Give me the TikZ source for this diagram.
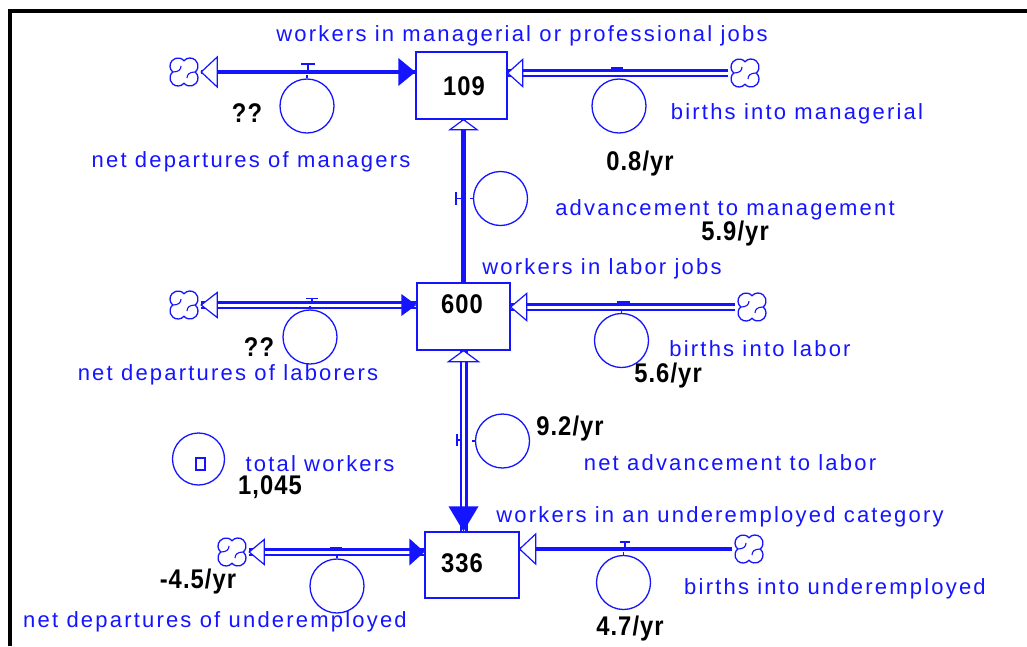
\documentclass[tikz,border=0pt]{standalone}
\usepackage{fontspec}
\setmainfont{Liberation Sans}
\newfontfamily\lblfont[LetterSpace=10]{Liberation Sans}
\newfontfamily\numfont[LetterSpace=4,FakeStretch=0.88]{Liberation Sans}
\definecolor{fcblue}{RGB}{20,20,255}
\tikzset{
  lbl/.style={text=fcblue, font=\lblfont\fontsize{22}{26}\selectfont, inner sep=0pt, anchor=base},
  num/.style={text=black, font=\numfont\bfseries\fontsize{27}{30}\selectfont, inner sep=0pt, anchor=base},
  stock/.style={draw=fcblue, line width=1.3pt, fill=white, inner sep=0pt},
  conv/.style={circle, draw=fcblue, line width=1.3pt, minimum size=54pt, inner sep=0pt},
  cloudn/.style={circle, minimum size=34pt, inner sep=0pt},
  pipeone/.style={draw=fcblue, line width=4.5pt},
  pipetwo/.style={draw=fcblue, line width=2.5pt, double=white, double distance=3pt},
  headfill/.style={fill=fcblue},
  headopen/.style={draw=fcblue, fill=white, line width=1.2pt, line join=miter},
  valve/.style={draw=fcblue, line width=1.6pt},
  tick/.style={draw=fcblue, line width=1.3pt},
  cloudpic/.pic={
    \draw[fcblue, line width=1.3pt, fill=white]
      (11.29,0) arc[start angle=-48.6,end angle=138.6,radius=8]
      arc[start angle=41.4,end angle=228.6,radius=8]
      arc[start angle=131.4,end angle=318.6,radius=8]
      arc[start angle=221.4,end angle=408.6,radius=8] -- cycle;
    \foreach \r in {0,180}{
      \draw[fcblue, line width=1.1pt, rotate=\r] (11.29,0) .. controls (6,0) and (3,2) .. (3,6);
    }
  }
}
\begin{document}
\begin{tikzpicture}[x=1pt,y=-1pt]
\useasboundingbox (0,0) rectangle (1027,646);
% frame
\draw[black, line width=4pt] (10,646) -- (10,11) -- (1027,11);

% stocks
\node[stock, minimum width=91pt, minimum height=67pt] (s1) at (461.5,85.5) {};
\node[stock, minimum width=93pt, minimum height=67pt] (s2) at (463.5,316.5) {};
\node[stock, minimum width=94pt, minimum height=66pt] (s3) at (472,565) {};
\node[num] (n1) at (464,95.5) {109};
\node[num] (n2) at (462,313.5) {600};
\node[num] (n3) at (462,572.5) {336};

% cloud nodes
\node[cloudn] (c1) at (184,72) {};
\node[cloudn] (c2) at (745,73) {};
\node[cloudn] (c3) at (184,305) {};
\node[cloudn] (c4) at (752,307) {};
\node[cloudn] (c5) at (232,552) {};
\node[cloudn] (c6) at (749,549) {};

% flow pipes
\draw[pipeone] (c1.east) -- (s1.west |- c1);
\draw[pipetwo] (s1.east |- c2) -- (c2.west);
\draw[pipetwo] (c3.east) -- (s2.west |- c3);
\draw[pipetwo] (s2.east |- c4) -- (c4.west);
\draw[pipetwo] (c5.east) -- (s3.west |- c5);
\draw[pipeone] (s3.east |- c6) -- (c6.west);
\draw[pipeone] (s2.north) -- (s1.south -| s2.north);
\draw[pipetwo] (s2.south) -- (s3.north -| s2.south);

% arrow heads
\draw[headopen] (c1.east) -- ++(16,-15) -- ++(0,30) -- cycle;
\fill[headfill] (s1.west |- c1) -- ++(-17,-14) -- ++(0,28) -- cycle;
\draw[headopen] (s1.east |- c2) -- ++(15,-13.5) -- ++(0,27) -- cycle;
\draw[headopen] (c3.east) -- ++(16,-12.5) -- ++(0,25) -- cycle;
\fill[headfill] (s2.west |- c3) -- ++(-15,-11) -- ++(0,22) -- cycle;
\draw[headopen] (s2.east |- c4) -- ++(16,-13.5) -- ++(0,27) -- cycle;
\draw[headopen] (c5.east) -- ++(15,-12.5) -- ++(0,25) -- cycle;
\fill[headfill] (s3.west |- c5) -- ++(-15,-13.5) -- ++(0,27) -- cycle;
\draw[headopen] (s3.east |- c6) -- ++(16,-15) -- ++(0,30) -- cycle;
\draw[headopen] (s1.south -| s2.north) -- ++(-13.5,10) -- ++(27,0) -- cycle;
\draw[headopen] (s2.south) -- ++(-15,11) -- ++(30,0) -- cycle;
\fill[headfill] (s3.north -| s2.south) -- ++(-15,-25) -- ++(30,0) -- cycle;

% clouds
\pic at (c1) {cloudpic};
\pic at (c2) {cloudpic};
\pic at (c3) {cloudpic};
\pic at (c4) {cloudpic};
\pic at (c5) {cloudpic};
\pic at (c6) {cloudpic};

% valves
\coordinate (v1) at (308,72);
\draw[valve] (v1) ++(0,-2) -- ++(0,-6) ++(-7,0) -- ++(14,0);
\coordinate (v2) at (617,69);
\fill[fcblue] (v2) ++(-6,-2) rectangle ++(12,4);
\coordinate (v3) at (312,305);
\draw[valve] (v3) ++(0,-3.5) -- ++(0,-3) ++(-6,0) -- ++(12,0);
\coordinate (v4) at (623,303);
\fill[fcblue] (v4) ++(-6.5,-2) rectangle ++(13,4);
\coordinate (v5) at (336,548);
\fill[fcblue] (v5) ++(-6,-1.5) rectangle ++(12,3.5);
\coordinate (v6) at (625,549);
\draw[valve] (v6) ++(0,-2) -- ++(0,-5) ++(-5,0) -- ++(10,0);
\coordinate (v7) at (463.5,198.5);
\draw[valve] (v7) ++(-2,0) -- ++(-5.5,0) ++(0,-6.5) -- ++(0,13);
\coordinate (v8) at (464,440);
\draw[valve] (v8) ++(-4,0) -- ++(-3,0) ++(0,-6) -- ++(0,12);

% converters
\node[conv] (a1) at (307,106) {};
\node[conv] (a2) at (619,106) {};
\node[conv] (a3) at (500.5,198.5) {};
\node[conv] (a4) at (310,337) {};
\node[conv] (a5) at (621.5,340.5) {};
\node[conv] (a6) at (502.5,441) {};
\node[conv, minimum size=52pt] (a7) at (198.5,459) {};
\node[conv] (a8) at (337,586) {};
\node[conv] (a9) at (623.5,582.5) {};
\draw[fcblue, line width=1.3pt] (196,458) rectangle (205,470);
\draw[tick] (a1.north) -- ++(0,-3);
\draw[tick] (a3.west) -- ++(-3,0);
\draw[tick] (a4.north) -- ++(0,-3);
\draw[tick] (a5.north) -- ++(0,-3);
\draw[tick] (a6.west) -- ++(-3,0);
\draw[tick] (a8.north) -- ++(0,-3);
\draw[tick] (a9.north) -- ++(0,-3);

% labels
\node[lbl] (l1) at (522,41) {workers in managerial or professional jobs};
\node[lbl] (l2) at (797,119) {births into managerial};
\node[lbl] (l3) at (251,167) {net departures of managers};
\node[lbl] (l4) at (725,215) {advancement to management};
\node[lbl] (l5) at (602,274) {workers in labor jobs};
\node[lbl] (l6) at (228,380) {net departures of laborers};
\node[lbl] (l7) at (760,356) {births into labor};
\node[lbl] (l8) at (730,470) {net advancement to labor};
\node[lbl] (l9) at (320,471) {total workers};
\node[lbl] (l10) at (720,522) {workers in an underemployed category};
\node[lbl] (l11) at (215,627) {net departures of underemployed};
\node[lbl] (l12) at (835,594) {births into underemployed};

% values
\node[num] (q1) at (247,122) {??};
\node[num] (q2) at (640,170) {0.8/yr};
\node[num] (q3) at (735,240) {5.9/yr};
\node[num] (q4) at (259,356) {??};
\node[num] (q5) at (668,382) {5.6/yr};
\node[num] (q6) at (570,435) {9.2/yr};
\node[num] (q7) at (270,494) {1,045};
\node[num] (q8) at (198,588) {-4.5/yr};
\node[num] (q9) at (630,635) {4.7/yr};
\end{tikzpicture}
\end{document}
